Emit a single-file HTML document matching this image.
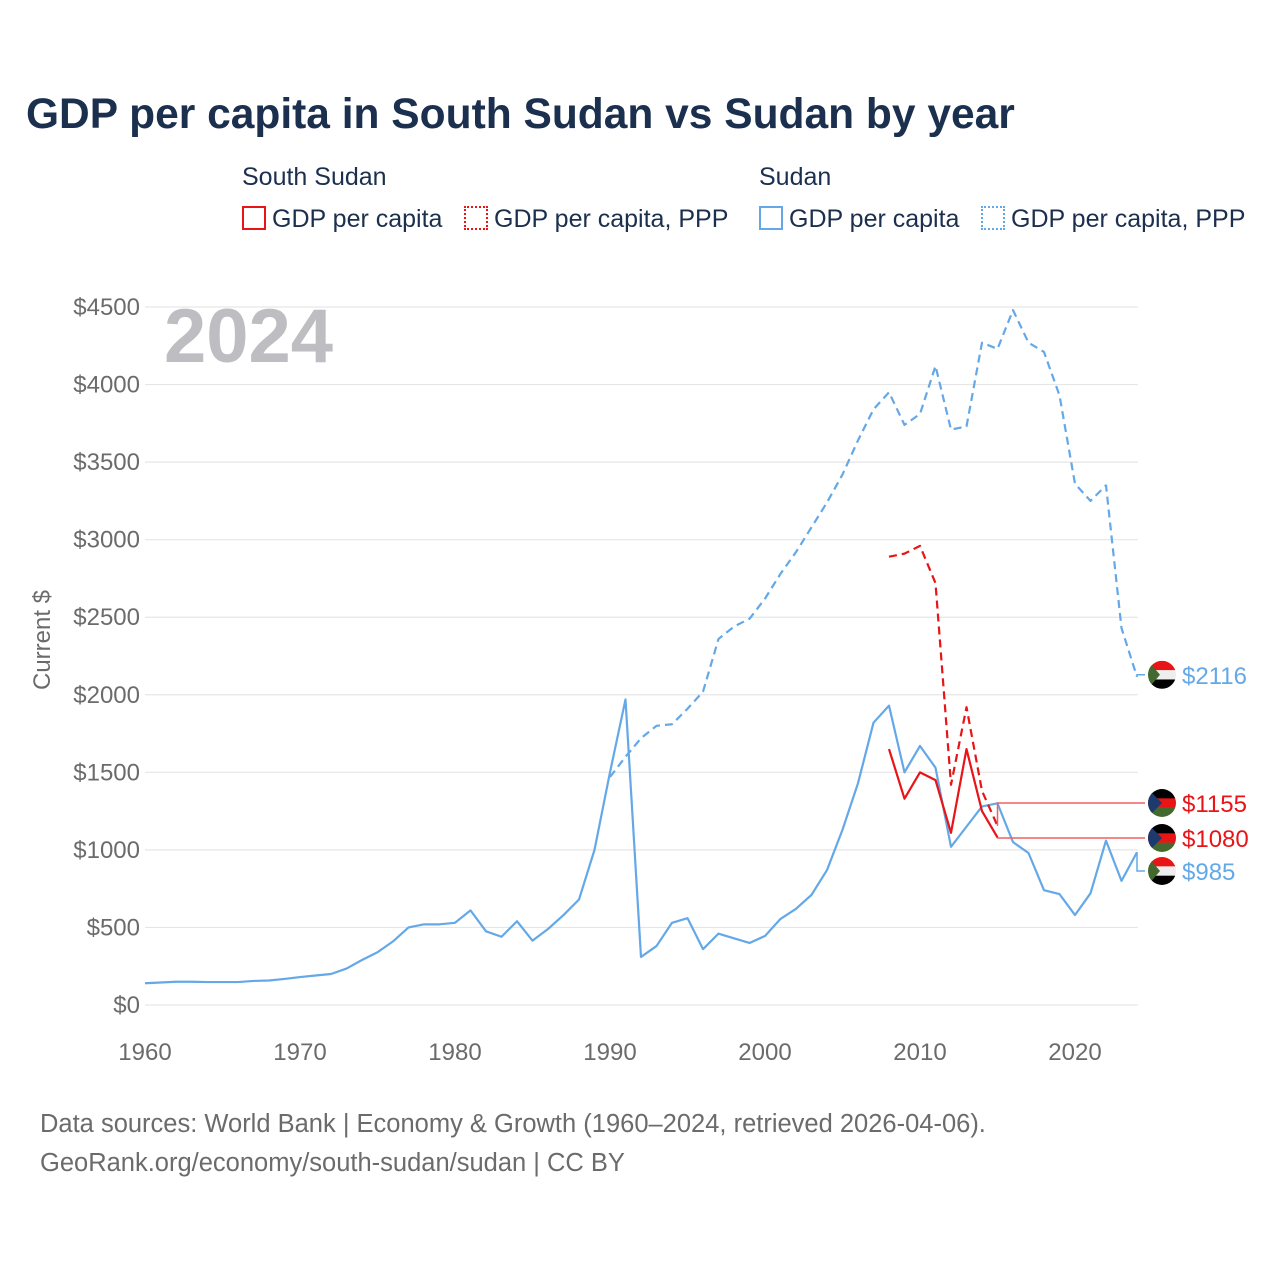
<!DOCTYPE html>
<html><head><meta charset="utf-8"><style>
body{margin:0;background:#fff;font-family:"Liberation Sans",sans-serif;}
#wrap{position:relative;width:1280px;height:1280px;overflow:hidden;}
.t{position:absolute;white-space:nowrap;}
</style></head><body>
<div id="wrap">
<div class="t" style="left:26px;top:91px;font-size:42.5px;font-weight:bold;color:#1b2f4e;">GDP per capita in South Sudan vs Sudan by year</div>
<div class="t" style="left:242px;top:163px;font-size:25px;color:#1b2f4e;">South Sudan</div>
<div class="t" style="left:759px;top:163px;font-size:25px;color:#1b2f4e;">Sudan</div>
<div class="t" style="left:242px;top:205px;font-size:25px;color:#1b2f4e;"><span style="display:inline-block;width:24px;height:24px;border:2px solid #e81416;box-sizing:border-box;vertical-align:-3px;margin-right:6px;"></span>GDP per capita</div>
<div class="t" style="left:464px;top:205px;font-size:25px;color:#1b2f4e;"><span style="display:inline-block;width:24px;height:24px;border:2px dotted #e81416;box-sizing:border-box;vertical-align:-3px;margin-right:6px;"></span>GDP per capita, PPP</div>
<div class="t" style="left:759px;top:205px;font-size:25px;color:#1b2f4e;"><span style="display:inline-block;width:24px;height:24px;border:2px solid #64a8e8;box-sizing:border-box;vertical-align:-3px;margin-right:6px;"></span>GDP per capita</div>
<div class="t" style="left:981px;top:205px;font-size:25px;color:#1b2f4e;"><span style="display:inline-block;width:24px;height:24px;border:2px dotted #64a8e8;box-sizing:border-box;vertical-align:-3px;margin-right:6px;"></span>GDP per capita, PPP</div>
<svg id="chart" width="1280" height="1280" style="position:absolute;left:0;top:0;"></svg>
<div class="t" style="left:40px;top:1105px;font-size:25.5px;color:#6b6b6b;line-height:39px;">Data sources: World Bank | Economy &amp; Growth (1960–2024, retrieved 2026-04-06).<br>GeoRank.org/economy/south-sudan/sudan | CC BY</div>
</div>
<script>
const sudanYears0 = 1960;
const sudanGdp = [140,145,150,150,148,148,148,155,158,168,180,190,200,235,290,340,410,500,520,520,530,610,475,440,540,415,490,580,680,1000,1500,1970,310,380,530,560,360,460,430,400,445,555,620,710,870,1130,1430,1820,1930,1500,1670,1530,1020,1150,1280,1300,1050,980,740,715,580,720,1060,800,985];
const sudanPppYears0 = 1990;
const sudanPpp = [1470,1600,1720,1800,1810,1910,2020,2360,2440,2490,2620,2780,2920,3080,3240,3420,3640,3840,3950,3740,3810,4120,3710,3730,4270,4230,4480,4270,4210,3930,3360,3250,3350,2430,2116];
const ssYears0 = 2008;
const ssGdp = [1650,1330,1500,1450,1110,1650,1250,1080];
const ssPpp = [2890,2910,2960,2720,1420,1920,1380,1155];
const yTicks = [0,500,1000,1500,2000,2500,3000,3500,4000,4500];
const xTicks = [1960,1970,1980,1990,2000,2010,2020];

const svg = document.getElementById('chart');
const NS = 'http://www.w3.org/2000/svg';
const X = y => 145 + (y - 1960) * 15.5;
const Y = v => 1005 - v * (698 / 4500);
function mk(tag, attrs){const e=document.createElementNS(NS,tag);for(const k in attrs)e.setAttribute(k,attrs[k]);svg.appendChild(e);return e;}
yTicks.forEach(v=>{
  const l=mk('line',{x1:145,x2:1138,y1:Y(v),y2:Y(v),stroke:'#e6e6e6','stroke-width':1.2});
  
  
  const t=mk('text',{x:140,y:Y(v)+8,'text-anchor':'end','font-size':24,fill:'#6b6b6b','font-family':'Liberation Sans, sans-serif'});
  t.textContent='$'+v;
  
  
});
xTicks.forEach(y=>{
  const t=mk('text',{x:X(y),y:1060,'text-anchor':'middle','font-size':24,fill:'#6b6b6b','font-family':'Liberation Sans, sans-serif'});
  t.textContent=y;
  
  
});
const yt=mk('text',{x:0,y:0,transform:'translate(50,640) rotate(-90)','text-anchor':'middle','font-size':24,fill:'#6b6b6b','font-family':'Liberation Sans, sans-serif'});
yt.textContent='Current $';


const yr=mk('text',{x:164,y:362,'font-size':76,'font-weight':'bold',fill:'#bdbdc2','font-family':'Liberation Sans, sans-serif'});
yr.textContent='2024';


function series(arr,y0,color,dash,name){
  const pts=arr.map((v,i)=>X(y0+i)+','+Y(v)).join(' ');
  const p=mk('polyline',{points:pts,fill:'none',stroke:color,'stroke-width':2.2,'stroke-linejoin':'round'});
  if(dash)p.setAttribute('stroke-dasharray',dash);
  
  
}
series(sudanPpp,sudanPppYears0,'#64a8e8','8,5','sudan-ppp-line');
series(sudanGdp,sudanYears0,'#64a8e8',null,'sudan-gdp-line');
series(ssPpp,ssYears0,'#e81416','8,5','south-sudan-ppp-line');
series(ssGdp,ssYears0,'#e81416',null,'south-sudan-gdp-line');
function endLabel(v,lastX,labelY,color,text,flag,name){
  const lc = flag==='ss' ? '#f06060' : color;
  const c=mk('polyline',{points:lastX+','+Y(v)+' '+lastX+','+labelY+' 1145,'+labelY,fill:'none',stroke:lc,'stroke-width':1.5});
  
  
  const cx=1162, cy=labelY;
  const g=document.createElementNS(NS,'g');svg.appendChild(g);
  
  
  const id='clip'+Math.round(labelY);
  const cp=document.createElementNS(NS,'clipPath');cp.setAttribute('id',id);
  const cc=document.createElementNS(NS,'circle');cc.setAttribute('cx',cx);cc.setAttribute('cy',cy);cc.setAttribute('r',14);cp.appendChild(cc);g.appendChild(cp);
  const gg=document.createElementNS(NS,'g');gg.setAttribute('clip-path','url(#'+id+')');g.appendChild(gg);
  const cols = flag==='sd'?['#e81416','#eeeeee','#000']:['#000','#e81416','#44692f'];
  cols.forEach((col,i)=>{const r=document.createElementNS(NS,'rect');r.setAttribute('x',cx-14);r.setAttribute('y',cy-14+i*9.34);r.setAttribute('width',28);r.setAttribute('height',9.6);r.setAttribute('fill',col);gg.appendChild(r);});
  const tri=document.createElementNS(NS,'polygon');
  tri.setAttribute('points',(cx-14)+','+(cy-14)+' '+(cx+ (flag==='sd'?-2:0))+','+cy+' '+(cx-14)+','+(cy+14));
  tri.setAttribute('fill',flag==='sd'?'#44692f':'#1c3a6e');gg.appendChild(tri);
  const t=mk('text',{x:1182,y:labelY+9,'font-size':24,fill:color,'font-family':'Liberation Sans, sans-serif'});
  t.textContent=text;
  
  
}
endLabel(sudanPpp[sudanPpp.length-1],X(2024),Y(sudanPpp[sudanPpp.length-1])-2,'#64a8e8','$'+sudanPpp[sudanPpp.length-1],'sd','sudan-ppp');
endLabel(ssPpp[ssPpp.length-1],X(2015),803,'#e81416','$'+ssPpp[ssPpp.length-1],'ss','south-sudan-ppp');
endLabel(ssGdp[ssGdp.length-1],X(2015),838,'#e81416','$'+ssGdp[ssGdp.length-1],'ss','south-sudan-gdp');
endLabel(sudanGdp[sudanGdp.length-1],X(2024),871,'#64a8e8','$'+sudanGdp[sudanGdp.length-1],'sd','sudan-gdp');
</script>
</body></html>
